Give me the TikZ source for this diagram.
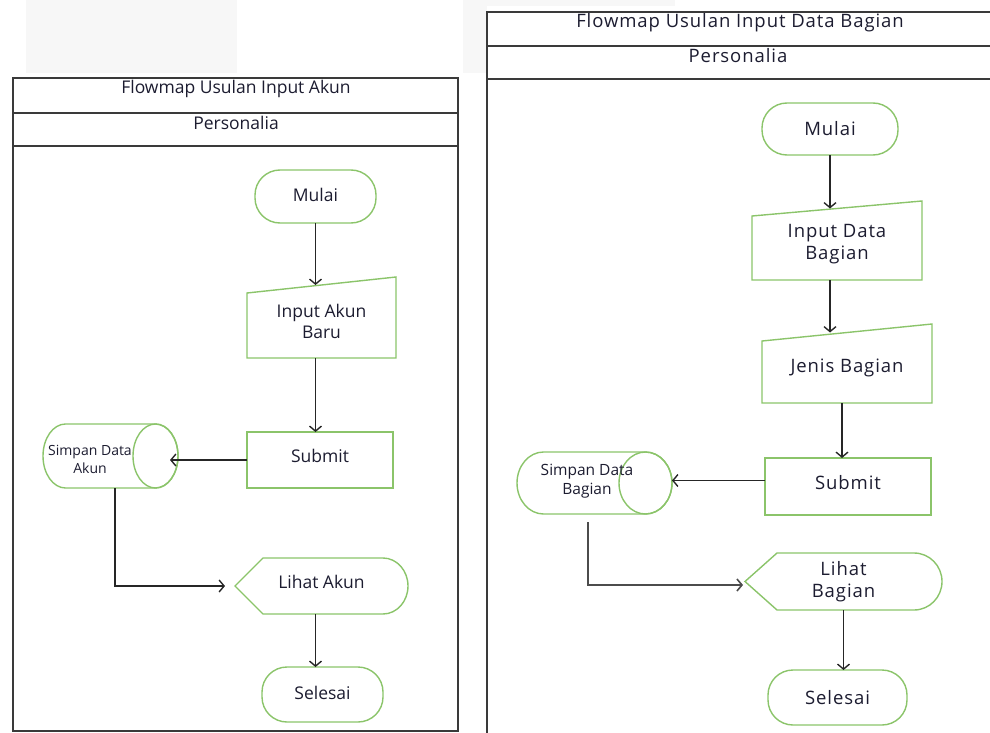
\documentclass[tikz,border=0pt]{standalone}
\usepackage{fontspec}
\setmainfont{Open Sans}
\usetikzlibrary{arrows.meta,calc}
\definecolor{gline}{HTML}{8BC46A}
\definecolor{frame}{HTML}{3A3A3A}
\definecolor{gfill}{HTML}{F7F7F7}
\definecolor{txt}{HTML}{1C1C30}
\begin{document}
\begin{tikzpicture}[x=1pt,y=-1pt,
  every node/.style={font=\fontsize{17.5}{21.5}\selectfont, text=txt, align=center},
  rtext/.style={font=\fontsize{18.5}{22}\selectfont\addfontfeature{LetterSpace=5}},
  shp/.style={inner sep=0pt, outer sep=0pt},
  term/.style={shp, draw=gline, line width=1.4pt, rounded corners=25pt},
  procbox/.style={shp, draw=gline, line width=1.4pt},
  outline/.style={draw=gline, line width=1.4pt},
  arr/.style={draw=black!85, line width=1.4pt, -{Straight Barb[length=5pt,width=12pt]}},
  frm/.style={draw=frame, line width=2pt}]
\useasboundingbox (0,0) rectangle (990,733);
% faint background patches
\fill[gfill] (26,0) rectangle (237,73);
\fill[gfill] (463,0) rectangle (487,73);
\fill[gfill] (487,0) rectangle (675,6);

% ---------- left frame ----------
\draw[frm] (13,78) rectangle (458,731);
\draw[frm] (13,113) -- (458,113);
\draw[frm] (13,146) -- (458,146);
\node (t1) at (236,89) {Flowmap Usulan Input Akun};
\node (p1) at (236,123) {Personalia};

% ---------- right frame ----------
\draw[frm] (990,12) -- (487,12) -- (487,733);
\draw[frm] (487,46) -- (990,46);
\draw[frm] (487,79) -- (990,79);
\node[rtext] (t2) at (740,23) {Flowmap Usulan Input Data Bagian};
\node[rtext] (p2) at (738,56) {Personalia};

% ---------- left flow ----------
\node[term, minimum width=121pt, minimum height=53pt] (m1) at (315.5,196.5) {\raisebox{3pt}{Mulai}};

\node[shp, minimum width=149pt, minimum height=73pt] (in1) at (321.5,321.5) {Input Akun\\Baru};
\draw[outline] (in1.south west) -- ([yshift=-8pt]in1.north west) -- ([yshift=8pt]in1.north east) -- (in1.south east) -- cycle;

\node[procbox, minimum width=146pt, minimum height=56pt] (sb1) at (320,460) {\raisebox{8pt}{Submit}};

\node[shp, minimum width=135pt, minimum height=64pt] (sim1) at (110.5,456) {};
\draw[outline] ([xshift=22.5pt]sim1.south west) arc[start angle=270, end angle=90, x radius=22.5pt, y radius=32pt]
  -- ([xshift=-22.5pt]sim1.north east) arc[start angle=90, end angle=-90, x radius=22.5pt, y radius=32pt] -- cycle;
\draw[outline] ([xshift=-22.5pt]sim1.east) ellipse [x radius=22.5pt, y radius=32pt];
\node[font=\fontsize{14}{18}\selectfont] (sim1t) at (90,459) {Simpan Data\\Akun};

\node[shp, minimum width=173pt, minimum height=56pt] (lh1) at (321.5,586) {\raisebox{8pt}{Lihat Akun}};
\draw[outline] (lh1.west) -- ([xshift=28pt]lh1.north west) -- ([xshift=-25pt]lh1.north east)
  arc[start angle=90, end angle=-90, x radius=25pt, y radius=28pt] -- ([xshift=28pt]lh1.south west) -- cycle;

\node[term, minimum width=121pt, minimum height=55pt] (sl1) at (322.5,694.5) {\raisebox{3pt}{Selesai}};

\draw[arr] (m1.south) -- (m1.south |- in1.north);
\draw[arr] (in1.south -| m1.south) -- (m1.south |- sb1.north);
\draw[arr] (sb1.west) -- ([xshift=-8pt]sb1.west -| sim1.east);
\draw[arr] ([xshift=4.5pt]sim1.south) |- ([xshift=-10pt]lh1.west);
\draw[arr] (lh1.south -| m1.south) -- (m1.south |- sl1.north);

% ---------- right flow ----------
\node[term, rtext, minimum width=136pt, minimum height=52pt] (m2) at (830,129) {Mulai};

\node[shp, rtext, minimum width=170pt, minimum height=71.5pt] (in2) at (837,244.25) {Input Data\\Bagian};
\draw[outline] (in2.south west) -- ([yshift=-7.5pt]in2.north west) -- ([yshift=7.5pt]in2.north east) -- (in2.south east) -- cycle;

\node[shp, rtext, minimum width=170pt, minimum height=70.5pt] (jb2) at (847,367.75) {\raisebox{5pt}{Jenis Bagian}};
\draw[outline] (jb2.south west) -- ([yshift=-8.5pt]jb2.north west) -- ([yshift=8.5pt]jb2.north east) -- (jb2.south east) -- cycle;

\node[procbox, rtext, minimum width=166pt, minimum height=57pt] (sb2) at (848,486.5) {\raisebox{8pt}{Submit}};

\node[shp, minimum width=155pt, minimum height=62pt] (sim2) at (594.5,483) {};
\draw[outline] ([xshift=26.5pt]sim2.south west) arc[start angle=270, end angle=90, x radius=26.5pt, y radius=31pt]
  -- ([xshift=-26.5pt]sim2.north east) arc[start angle=90, end angle=-90, x radius=26.5pt, y radius=31pt] -- cycle;
\draw[outline] ([xshift=-26.5pt]sim2.east) ellipse [x radius=26.5pt, y radius=31pt];
\node[font=\fontsize{15.5}{19}\selectfont] (sim2t) at (587,481) {Simpan Data\\Bagian};

\node[shp, rtext, minimum width=197pt, minimum height=57pt] (lh2) at (843.5,581.5) {Lihat\\Bagian};
\draw[outline] (lh2.west) -- ([xshift=32pt]lh2.north west) -- ([xshift=-28pt]lh2.north east)
  arc[start angle=90, end angle=-90, x radius=28pt, y radius=28.5pt] -- ([xshift=32pt]lh2.south west) -- cycle;

\node[term, rtext, minimum width=139pt, minimum height=55pt] (sl2) at (837.5,697.5) {Selesai};

\draw[arr] (m2.south) -- (m2.south |- in2.north);
\draw[arr] (in2.south -| m2.south) -- (m2.south |- jb2.north);
\draw[arr] ([xshift=-5pt]jb2.south) -- ([xshift=-5pt]jb2.south |- sb2.north);
\draw[arr] ([yshift=6pt]sb2.west) -- ([yshift=6pt]sb2.west -| sim2.east);
\draw[arr, draw=black!70, line width=1.6pt] ([xshift=-6.5pt,yshift=-8pt]sim2.south) |- ([xshift=-2pt,yshift=-3.5pt]lh2.west);
\draw[arr] (lh2.south) -- (lh2.south |- sl2.north);
\end{tikzpicture}
\end{document}
